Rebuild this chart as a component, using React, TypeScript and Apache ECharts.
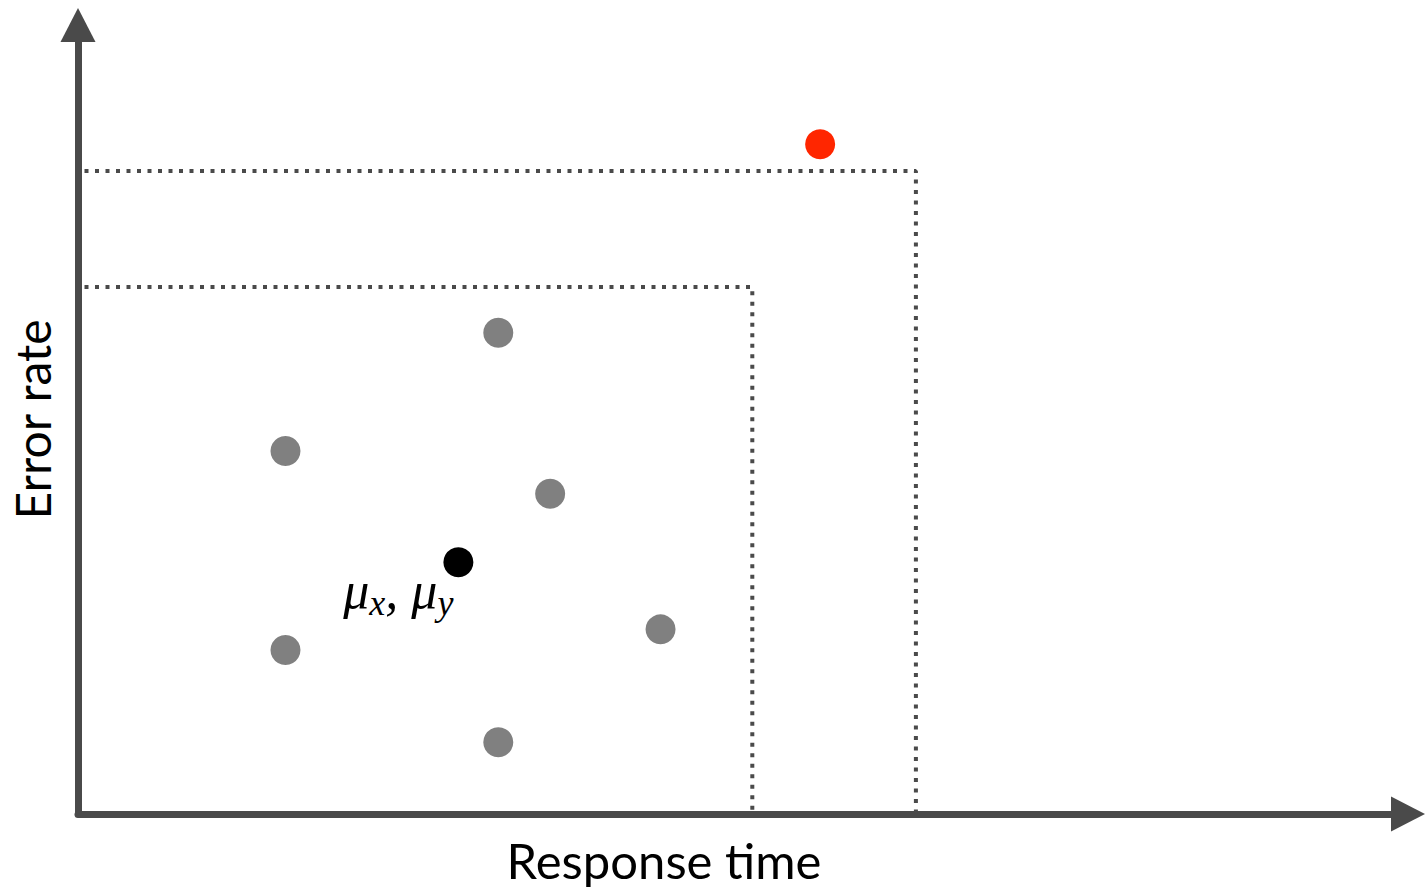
import React, { useEffect, useRef } from "react";
import * as echarts from "echarts";

// Observations (Response time, Error rate) in arbitrary units 0..100
const grayPoints: [number, number][] = [
  [31.6, 61.0],
  [15.6, 46.0],
  [35.5, 40.6],
  [15.6, 20.8],
  [43.8, 23.4],
  [31.6, 9.1],
];
const meanPoint: [number, number] = [28.6, 31.9];
const outlierPoint: [number, number] = [55.8, 84.9];

// Threshold boxes: [x threshold, y threshold]
const innerThreshold: [number, number] = [50.7, 66.8];
const outerThreshold: [number, number] = [63.0, 81.5];

const xTitle = "Response time";
const yTitle = "Error rate";

const AXIS_COLOR = "#4a4a4a";

function boxLine(t: [number, number]): [number, number][] {
  return [
    [0, t[1]],
    [t[0], t[1]],
    [t[0], 0],
  ];
}

export default function App() {
  const ref = useRef<HTMLDivElement>(null);
  useEffect(() => {
    if (!ref.current) return;
    const chart = echarts.init(ref.current, undefined, { renderer: "svg" });
    const dotted = {
      color: AXIS_COLOR,
      width: 4,
      type: [4, 6.5] as number[],
      dashOffset: 3.5,
      cap: "butt" as const,
    };
    chart.setOption({
      animation: false,
      backgroundColor: "#ffffff",
      grid: { left: 78, right: 17, top: 25, bottom: 78 },
      xAxis: {
        type: "value",
        min: 0,
        max: 100,
        axisLine: {
          show: true,
          onZero: false,
          symbol: ["none", "triangle"],
          symbolSize: [35, 34],
          lineStyle: { color: AXIS_COLOR, width: 7 },
        },
        axisTick: { show: false },
        axisLabel: { show: false },
        splitLine: { show: false },
      },
      yAxis: {
        type: "value",
        min: 0,
        max: 100,
        name: yTitle,
        nameLocation: "middle",
        nameGap: 22,
        nameTextStyle: {
          fontFamily: "Lato",
          fontSize: 48,
          color: "#000000",
        },
        axisLine: {
          show: true,
          onZero: false,
          symbol: ["none", "triangle"],
          symbolSize: [35, 34],
          lineStyle: { color: AXIS_COLOR, width: 7 },
        },
        axisTick: { show: false },
        axisLabel: { show: false },
        splitLine: { show: false },
      },
      graphic: [
        {
          type: "text",
          x: 664,
          y: 860,
          style: {
            text: xTitle,
            fontFamily: "Lato",
            fontSize: 49,
            fill: "#000000",
            align: "center",
            verticalAlign: "middle",
          },
        },
      ],
      series: [
        {
          type: "line",
          data: boxLine(outerThreshold),
          symbol: "none",
          lineStyle: dotted,
          z: 1,
        },
        {
          type: "line",
          data: boxLine(innerThreshold),
          symbol: "none",
          lineStyle: dotted,
          z: 1,
        },
        {
          type: "scatter",
          data: grayPoints,
          symbolSize: 30,
          itemStyle: { color: "#808080", opacity: 1 },
          z: 3,
        },
        {
          type: "scatter",
          data: [outlierPoint],
          symbolSize: 30,
          itemStyle: { color: "#ff2600", opacity: 1 },
          z: 3,
        },
        {
          type: "scatter",
          data: [meanPoint],
          symbolSize: 30,
          itemStyle: { color: "#000000", opacity: 1 },
          z: 3,
          label: {
            show: true,
            position: [10, 48],
            align: "right",
            verticalAlign: "middle",
            formatter: "{mu|μ}{sub|x}{mu|, μ}{sub|y}",
            rich: {
              mu: {
                fontFamily: "Liberation Serif",
                fontStyle: "italic",
                fontSize: 52,
                lineHeight: 52,
                color: "#000",
                padding: [0, 0, 10, 0],
              },
              sub: {
                fontFamily: "Liberation Serif",
                fontStyle: "italic",
                fontSize: 36,
                lineHeight: 36,
                color: "#000",
                verticalAlign: "bottom",
              },
            },
          },
        },
      ],
    });
    return () => chart.dispose();
  }, []);
  return (
    <div
      ref={ref}
      style={{ position: "absolute", left: 0, top: 0, width: 1425, height: 892 }}
    />
  );
}
